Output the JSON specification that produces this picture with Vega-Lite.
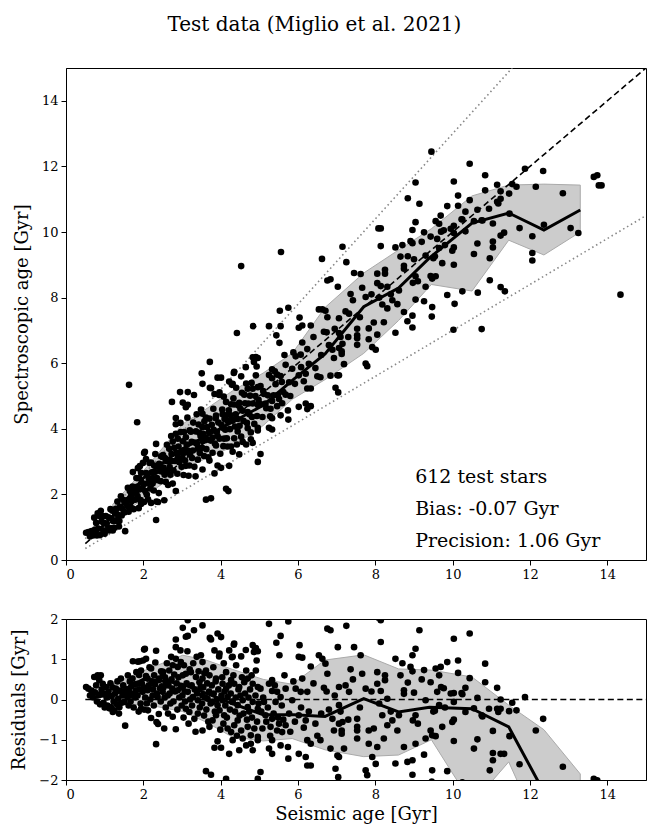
{
"$schema":"https://vega.github.io/schema/vega-lite/v6.json",
"background":"white",
"padding":{"left":10,"top":14,"right":1,"bottom":5},
"title":{"text":"Test data (Miglio et al. 2021)","font":"DejaVu Serif","fontSize":20,"fontWeight":"normal","color":"black","anchor":"middle","offset":33,"dx":-14},
"config":{"font":"DejaVu Serif","view":{"stroke":"black","strokeWidth":1},
"axis":{"domainColor":"black","tickColor":"black","labelColor":"black","titleColor":"black","labelFont":"DejaVu Serif","titleFont":"DejaVu Serif","labelFontSize":13,"titleFontSize":18,"titleFontWeight":"normal","grid":false,"tickSize":5,"labelPadding":3}},
"datasets":{
"stars":[
{"s":0.52,"a":0.83,"r":0.31},{"s":0.58,"a":0.85,"r":0.27},{"s":0.62,"a":0.72,"r":0.10},{"s":0.66,"a":0.88,"r":0.22},{"s":0.70,"a":0.75,"r":0.05},{"s":0.73,"a":1.29,"r":0.56},{"s":0.75,"a":0.93,"r":0.18},{"s":0.78,"a":1.13,"r":0.35},{"s":0.80,"a":0.75,"r":-0.05},{"s":0.82,"a":1.42,"r":0.60},{"s":0.84,"a":0.96,"r":0.12},{"s":0.86,"a":1.34,"r":0.48},{"s":0.88,"a":0.76,"r":-0.12},{"s":0.90,"a":1.50,"r":0.60},{"s":0.92,"a":1.17,"r":0.25},{"s":0.95,"a":1.34,"r":0.39},{"s":0.97,"a":0.89,"r":-0.08},{"s":0.98,"a":1.13,"r":0.15},{"s":1.00,"a":0.80,"r":-0.20},{"s":1.03,"a":1.34,"r":0.31},
{"s":1.05,"a":1.10,"r":0.05},{"s":1.07,"a":0.92,"r":-0.15},{"s":1.10,"a":1.30,"r":0.20},{"s":1.12,"a":0.90,"r":-0.22},{"s":1.15,"a":1.55,"r":0.40},{"s":1.16,"a":0.97,"r":-0.19},{"s":1.18,"a":1.26,"r":0.08},{"s":1.20,"a":1.50,"r":0.30},{"s":1.21,"a":0.90,"r":-0.31},{"s":1.23,"a":1.18,"r":-0.05},{"s":1.25,"a":0.98,"r":-0.27},{"s":1.27,"a":1.42,"r":0.15},{"s":1.29,"a":1.56,"r":0.27},{"s":1.31,"a":1.19,"r":-0.12},{"s":1.33,"a":1.78,"r":0.45},{"s":1.35,"a":1.37,"r":0.02},{"s":1.37,"a":1.02,"r":-0.35},{"s":1.38,"a":1.19,"r":-0.19},{"s":1.40,"a":1.62,"r":0.22},{"s":1.42,"a":1.94,"r":0.52},{"s":1.44,"a":1.36,"r":-0.08},{"s":1.46,"a":1.56,"r":0.10},{"s":1.48,"a":1.83,"r":0.35},{"s":1.51,"a":1.45,"r":-0.06},{"s":1.53,"a":0.88,"r":-0.65},{"s":1.55,"a":1.73,"r":0.18},
{"s":1.57,"a":1.82,"r":0.25},{"s":1.59,"a":1.65,"r":0.06},{"s":1.60,"a":2.20,"r":0.60},{"s":1.62,"a":1.47,"r":-0.15},{"s":1.63,"a":5.34,"r":3.71},{"s":1.63,"a":1.83,"r":0.20},{"s":1.65,"a":2.10,"r":0.45},{"s":1.67,"a":1.62,"r":-0.05},{"s":1.69,"a":2.01,"r":0.32},{"s":1.70,"a":1.80,"r":0.10},{"s":1.72,"a":2.24,"r":0.52},{"s":1.72,"a":1.86,"r":0.14},{"s":1.73,"a":2.68,"r":0.95},{"s":1.75,"a":1.55,"r":-0.20},{"s":1.77,"a":2.15,"r":0.38},{"s":1.79,"a":1.84,"r":0.05},{"s":1.81,"a":2.04,"r":0.23},{"s":1.82,"a":2.50,"r":0.68},{"s":1.84,"a":4.20,"r":2.36},{"s":1.85,"a":2.24,"r":0.39},{"s":1.85,"a":1.95,"r":0.10},{"s":1.86,"a":2.80,"r":0.94},{"s":1.88,"a":1.58,"r":-0.30},{"s":1.89,"a":2.50,"r":0.61},{"s":1.90,"a":2.15,"r":0.25},{"s":1.91,"a":2.86,"r":0.95},{"s":1.93,"a":1.83,"r":-0.10},{"s":1.94,"a":2.66,"r":0.72},{"s":1.94,"a":1.71,"r":-0.23},{"s":1.96,"a":2.36,"r":0.40},{"s":1.98,"a":2.17,"r":0.19},{"s":1.99,"a":2.96,"r":0.97},
{"s":2.01,"a":2.31,"r":0.30},{"s":2.02,"a":3.26,"r":1.24},{"s":2.02,"a":1.77,"r":-0.25},{"s":2.04,"a":3.30,"r":1.26},{"s":2.05,"a":2.10,"r":0.05},{"s":2.07,"a":2.65,"r":0.58},{"s":2.07,"a":3.08,"r":1.01},{"s":2.09,"a":1.99,"r":-0.10},{"s":2.11,"a":2.63,"r":0.52},{"s":2.11,"a":2.34,"r":0.23},{"s":2.12,"a":1.85,"r":-0.27},{"s":2.14,"a":2.49,"r":0.35},{"s":2.16,"a":2.96,"r":0.80},{"s":2.18,"a":2.18,"r":0.00},{"s":2.20,"a":2.97,"r":0.77},{"s":2.20,"a":1.74,"r":-0.46},{"s":2.22,"a":2.67,"r":0.45},{"s":2.24,"a":2.34,"r":0.10},{"s":2.25,"a":2.50,"r":0.25},{"s":2.27,"a":2.12,"r":-0.15},{"s":2.28,"a":2.88,"r":0.60},{"s":2.30,"a":2.68,"r":0.38},{"s":2.31,"a":3.23,"r":0.92},{"s":2.33,"a":3.54,"r":1.21},{"s":2.33,"a":1.22,"r":-1.11},{"s":2.34,"a":1.78,"r":-0.56},{"s":2.35,"a":2.50,"r":0.15},{"s":2.37,"a":2.43,"r":0.06},{"s":2.38,"a":1.77,"r":-0.61},{"s":2.39,"a":2.87,"r":0.48},{"s":2.40,"a":2.04,"r":-0.36},{"s":2.41,"a":2.93,"r":0.52},{"s":2.43,"a":2.71,"r":0.28},{"s":2.45,"a":2.40,"r":-0.05},{"s":2.46,"a":3.16,"r":0.70},{"s":2.48,"a":2.81,"r":0.33},{"s":2.50,"a":2.69,"r":0.19},{"s":2.50,"a":3.14,"r":0.64},
{"s":2.51,"a":3.20,"r":0.69},{"s":2.52,"a":2.82,"r":0.30},{"s":2.54,"a":1.82,"r":-0.72},{"s":2.55,"a":2.60,"r":0.05},{"s":2.56,"a":3.11,"r":0.55},{"s":2.58,"a":2.38,"r":-0.20},{"s":2.59,"a":3.02,"r":0.43},{"s":2.60,"a":3.06,"r":0.46},{"s":2.61,"a":3.51,"r":0.90},{"s":2.63,"a":2.73,"r":0.10},{"s":2.64,"a":2.29,"r":-0.35},{"s":2.65,"a":3.00,"r":0.35},{"s":2.67,"a":3.39,"r":0.72},{"s":2.68,"a":2.83,"r":0.15},{"s":2.70,"a":2.60,"r":-0.10},{"s":2.72,"a":3.78,"r":1.06},{"s":2.73,"a":3.23,"r":0.50},{"s":2.74,"a":4.82,"r":2.08},{"s":2.75,"a":3.02,"r":0.27},{"s":2.76,"a":3.61,"r":0.85},{"s":2.76,"a":2.33,"r":-0.43},{"s":2.78,"a":2.73,"r":-0.05},{"s":2.80,"a":3.42,"r":0.62},{"s":2.82,"a":3.02,"r":0.20},{"s":2.84,"a":4.33,"r":1.49},{"s":2.84,"a":4.14,"r":1.30},{"s":2.84,"a":3.85,"r":1.01},{"s":2.84,"a":2.10,"r":-0.74},{"s":2.86,"a":3.26,"r":0.40},{"s":2.88,"a":2.63,"r":-0.25},{"s":2.89,"a":3.70,"r":0.81},{"s":2.89,"a":3.12,"r":0.23},{"s":2.91,"a":3.46,"r":0.55},{"s":2.93,"a":2.98,"r":0.05},{"s":2.95,"a":5.12,"r":2.17},{"s":2.96,"a":4.18,"r":1.22},{"s":2.97,"a":3.90,"r":0.93},{"s":2.98,"a":3.28,"r":0.30},{"s":2.99,"a":2.84,"r":-0.15},
{"s":3.01,"a":3.11,"r":0.10},{"s":3.02,"a":4.80,"r":1.78},{"s":3.02,"a":3.62,"r":0.60},{"s":3.02,"a":3.33,"r":0.31},{"s":3.04,"a":2.59,"r":-0.45},{"s":3.05,"a":3.90,"r":0.85},{"s":3.07,"a":3.27,"r":0.20},{"s":3.08,"a":3.03,"r":-0.05},{"s":3.10,"a":4.66,"r":1.56},{"s":3.10,"a":3.74,"r":0.64},{"s":3.10,"a":2.87,"r":-0.23},{"s":3.12,"a":3.52,"r":0.40},{"s":3.14,"a":4.34,"r":1.20},{"s":3.15,"a":5.12,"r":1.97},{"s":3.15,"a":4.73,"r":1.58},{"s":3.15,"a":3.34,"r":0.19},{"s":3.17,"a":2.57,"r":-0.60},{"s":3.19,"a":2.88,"r":-0.31},{"s":3.20,"a":3.95,"r":0.75},{"s":3.21,"a":3.21,"r":0.00},{"s":3.23,"a":3.91,"r":0.68},{"s":3.25,"a":3.60,"r":0.35},{"s":3.26,"a":3.11,"r":-0.15},{"s":3.28,"a":3.34,"r":0.06},{"s":3.29,"a":4.19,"r":0.90},{"s":3.31,"a":5.03,"r":1.72},{"s":3.32,"a":2.84,"r":-0.48},{"s":3.33,"a":3.58,"r":0.25},{"s":3.35,"a":2.55,"r":-0.80},{"s":3.36,"a":3.92,"r":0.56},{"s":3.38,"a":4.44,"r":1.06},{"s":3.39,"a":3.54,"r":0.15},{"s":3.41,"a":3.39,"r":-0.02},{"s":3.41,"a":3.06,"r":-0.35},{"s":3.43,"a":4.13,"r":0.70},{"s":3.45,"a":3.88,"r":0.43},{"s":3.46,"a":3.26,"r":-0.20},{"s":3.48,"a":3.78,"r":0.30},{"s":3.49,"a":4.59,"r":1.10},
{"s":3.51,"a":5.69,"r":2.18},{"s":3.52,"a":3.42,"r":-0.10},{"s":3.53,"a":5.37,"r":1.84},{"s":3.53,"a":4.46,"r":0.93},{"s":3.53,"a":4.05,"r":0.52},{"s":3.53,"a":3.63,"r":0.10},{"s":3.53,"a":2.76,"r":-0.77},{"s":3.55,"a":3.85,"r":0.30},{"s":3.57,"a":3.17,"r":-0.40},{"s":3.58,"a":4.23,"r":0.65},{"s":3.60,"a":3.65,"r":0.05},{"s":3.62,"a":4.34,"r":0.72},{"s":3.62,"a":1.84,"r":-1.78},{"s":3.63,"a":3.38,"r":-0.25},{"s":3.65,"a":4.05,"r":0.40},{"s":3.66,"a":3.68,"r":0.02},{"s":3.68,"a":3.13,"r":-0.55},{"s":3.70,"a":3.90,"r":0.20},{"s":3.71,"a":4.31,"r":0.60},{"s":3.71,"a":3.03,"r":-0.68},{"s":3.72,"a":5.25,"r":1.53},{"s":3.72,"a":6.04,"r":2.32},{"s":3.74,"a":3.64,"r":-0.10},{"s":3.75,"a":5.24,"r":1.49},{"s":3.75,"a":1.88,"r":-1.87},{"s":3.77,"a":4.12,"r":0.35},{"s":3.79,"a":3.73,"r":-0.06},{"s":3.79,"a":3.27,"r":-0.52},{"s":3.81,"a":4.61,"r":0.80},{"s":3.82,"a":3.97,"r":0.15},{"s":3.84,"a":5.06,"r":1.22},{"s":3.84,"a":2.64,"r":-1.20},{"s":3.85,"a":3.55,"r":-0.30},{"s":3.87,"a":4.32,"r":0.45},{"s":3.88,"a":4.40,"r":0.52},{"s":3.88,"a":3.49,"r":-0.39},{"s":3.90,"a":3.90,"r":0.00},{"s":3.92,"a":5.56,"r":1.64},{"s":3.92,"a":3.78,"r":-0.14},{"s":3.92,"a":2.88,"r":-1.04},{"s":3.94,"a":4.19,"r":0.25},{"s":3.96,"a":5.03,"r":1.07},{"s":3.97,"a":5.11,"r":1.14},{"s":3.97,"a":3.70,"r":-0.27},{"s":3.99,"a":3.24,"r":-0.75},
{"s":4.01,"a":5.56,"r":1.55},{"s":4.01,"a":2.81,"r":-1.20},{"s":4.02,"a":4.12,"r":0.10},{"s":4.04,"a":4.59,"r":0.55},{"s":4.05,"a":4.44,"r":0.39},{"s":4.05,"a":4.03,"r":-0.02},{"s":4.07,"a":3.47,"r":-0.60},{"s":4.08,"a":4.98,"r":0.90},{"s":4.09,"a":3.70,"r":-0.39},{"s":4.10,"a":4.30,"r":0.20},{"s":4.12,"a":3.97,"r":-0.15},{"s":4.14,"a":4.82,"r":0.68},{"s":4.14,"a":4.41,"r":0.27},{"s":4.14,"a":2.17,"r":-1.97},{"s":4.16,"a":3.71,"r":-0.45},{"s":4.18,"a":4.24,"r":0.06},{"s":4.18,"a":3.46,"r":-0.72},{"s":4.20,"a":2.10,"r":-2.10},{"s":4.21,"a":4.56,"r":0.35},{"s":4.22,"a":5.44,"r":1.22},{"s":4.22,"a":2.87,"r":-1.35},{"s":4.24,"a":3.99,"r":-0.25},{"s":4.26,"a":4.41,"r":0.15},{"s":4.27,"a":4.75,"r":0.48},{"s":4.27,"a":3.46,"r":-0.81},{"s":4.29,"a":5.34,"r":1.05},{"s":4.30,"a":4.25,"r":-0.05},{"s":4.31,"a":5.37,"r":1.06},{"s":4.31,"a":4.25,"r":-0.06},{"s":4.31,"a":3.30,"r":-1.01},{"s":4.33,"a":4.93,"r":0.60},{"s":4.34,"a":5.70,"r":1.36},{"s":4.35,"a":5.74,"r":1.39},{"s":4.35,"a":4.74,"r":0.39},{"s":4.35,"a":3.71,"r":-0.64},{"s":4.37,"a":4.07,"r":-0.30},{"s":4.39,"a":4.44,"r":0.05},{"s":4.40,"a":5.25,"r":0.85},{"s":4.42,"a":6.92,"r":2.50},{"s":4.42,"a":3.52,"r":-0.90},{"s":4.44,"a":4.30,"r":-0.14},{"s":4.44,"a":3.92,"r":-0.52},{"s":4.46,"a":4.71,"r":0.25},{"s":4.48,"a":4.79,"r":0.31},{"s":4.48,"a":3.22,"r":-1.26},{"s":4.49,"a":4.09,"r":-0.40},
{"s":4.51,"a":4.61,"r":0.10},{"s":4.53,"a":5.60,"r":1.07},{"s":4.53,"a":8.96,"r":4.43},{"s":4.53,"a":3.76,"r":-0.77},{"s":4.55,"a":5.10,"r":0.55},{"s":4.57,"a":4.55,"r":-0.02},{"s":4.57,"a":3.60,"r":-0.97},{"s":4.59,"a":4.24,"r":-0.35},{"s":4.61,"a":5.04,"r":0.43},{"s":4.63,"a":4.78,"r":0.15},{"s":4.65,"a":5.88,"r":1.23},{"s":4.66,"a":5.38,"r":0.72},{"s":4.66,"a":3.52,"r":-1.14},{"s":4.68,"a":4.18,"r":-0.50},{"s":4.70,"a":5.22,"r":0.52},{"s":4.70,"a":4.51,"r":-0.19},{"s":4.70,"a":4.02,"r":-0.68},{"s":4.72,"a":4.77,"r":0.05},{"s":4.74,"a":4.44,"r":-0.30},{"s":4.76,"a":5.01,"r":0.25},{"s":4.78,"a":3.89,"r":-0.89},{"s":4.78,"a":3.68,"r":-1.10},{"s":4.80,"a":5.40,"r":0.60},{"s":4.81,"a":4.36,"r":-0.45},{"s":4.83,"a":6.18,"r":1.35},{"s":4.83,"a":5.22,"r":0.39},{"s":4.83,"a":4.77,"r":-0.06},{"s":4.83,"a":3.57,"r":-1.26},{"s":4.84,"a":7.13,"r":2.29},{"s":4.86,"a":6.04,"r":1.18},{"s":4.87,"a":4.15,"r":-0.72},{"s":4.89,"a":6.16,"r":1.27},{"s":4.90,"a":5.00,"r":0.10},{"s":4.91,"a":6.19,"r":1.28},{"s":4.91,"a":5.63,"r":0.72},{"s":4.93,"a":5.90,"r":0.97},{"s":4.94,"a":4.39,"r":-0.55},{"s":4.96,"a":5.27,"r":0.31},{"s":4.96,"a":4.73,"r":-0.23},{"s":4.96,"a":4.03,"r":-0.93},{"s":4.96,"a":3.95,"r":-1.01},{"s":4.96,"a":2.99,"r":-1.97},{"s":4.96,"a":6.16,"r":1.20},{"s":4.98,"a":4.88,"r":-0.10},
{"s":5.25,"a":7.13,"r":1.88},{"s":5.75,"a":7.69,"r":1.94},{"s":5.55,"a":7.13,"r":1.58},{"s":5.44,"a":6.85,"r":1.41},{"s":5.52,"a":6.62,"r":1.10},{"s":6.04,"a":7.39,"r":1.35},{"s":6.02,"a":7.08,"r":1.06},{"s":6.11,"a":7.15,"r":1.04},{"s":6.33,"a":7.15,"r":0.82},{"s":5.03,"a":5.30,"r":0.27},{"s":5.33,"a":5.81,"r":0.48},{"s":5.25,"a":5.64,"r":0.39},{"s":5.46,"a":5.65,"r":0.19},{"s":5.42,"a":5.36,"r":-0.06},{"s":5.55,"a":5.61,"r":0.06},{"s":5.33,"a":5.54,"r":0.21},{"s":5.68,"a":5.95,"r":0.27},{"s":5.94,"a":6.21,"r":0.27},{"s":6.07,"a":6.26,"r":0.19},{"s":6.24,"a":6.43,"r":0.19},{"s":5.85,"a":5.83,"r":-0.02},{"s":6.11,"a":6.63,"r":0.52},{"s":5.12,"a":5.06,"r":-0.06},{"s":5.16,"a":4.77,"r":-0.39},{"s":5.33,"a":4.85,"r":-0.48},{"s":5.51,"a":4.91,"r":-0.60},{"s":5.68,"a":5.04,"r":-0.64},{"s":5.77,"a":5.42,"r":-0.35},{"s":6.02,"a":5.63,"r":-0.39},{"s":6.20,"a":5.68,"r":-0.52},{"s":5.08,"a":4.36,"r":-0.72},{"s":5.29,"a":4.61,"r":-0.68},{"s":5.46,"a":4.69,"r":-0.77},{"s":5.59,"a":4.78,"r":-0.81},{"s":5.33,"a":4.32,"r":-1.01},{"s":5.25,"a":4.03,"r":-1.22},{"s":5.33,"a":3.98,"r":-1.35},{"s":5.55,"a":4.41,"r":-1.14},{"s":5.74,"a":4.56,"r":-1.18},{"s":5.75,"a":4.28,"r":-1.47},{"s":6.02,"a":4.67,"r":-1.35},{"s":6.24,"a":5.23,"r":-1.01},{"s":6.33,"a":5.23,"r":-1.10},{"s":6.20,"a":4.77,"r":-1.43},{"s":6.24,"a":4.60,"r":-1.64},{"s":6.33,"a":4.69,"r":-1.64},{"s":5.03,"a":3.23,"r":-1.80},
{"s":6.76,"a":8.52,"r":1.76},{"s":6.84,"a":8.56,"r":1.72},{"s":7.25,"a":9.08,"r":1.83},{"s":7.03,"a":8.33,"r":1.30},{"s":7.45,"a":8.75,"r":1.30},{"s":6.71,"a":7.60,"r":0.89},{"s":6.54,"a":7.64,"r":1.10},{"s":6.63,"a":7.64,"r":1.01},{"s":6.76,"a":7.40,"r":0.64},{"s":6.67,"a":6.96,"r":0.29},{"s":6.74,"a":6.94,"r":0.20},{"s":7.06,"a":7.37,"r":0.31},{"s":7.23,"a":7.58,"r":0.35},{"s":7.32,"a":7.51,"r":0.19},{"s":7.36,"a":8.11,"r":0.75},{"s":7.66,"a":8.30,"r":0.64},{"s":7.75,"a":8.02,"r":0.27},{"s":7.62,"a":8.72,"r":1.10},{"s":8.14,"a":9.57,"r":1.43},{"s":8.14,"a":10.11,"r":1.97},{"s":8.52,"a":9.53,"r":1.01},{"s":9.04,"a":10.30,"r":1.26},{"s":9.14,"a":10.86,"r":1.72},{"s":8.96,"a":10.06,"r":1.10},{"s":8.91,"a":9.72,"r":0.81},{"s":8.96,"a":9.66,"r":0.70},{"s":9.26,"a":9.99,"r":0.73},{"s":9.56,"a":10.33,"r":0.77},{"s":9.69,"a":10.50,"r":0.81},{"s":9.86,"a":10.79,"r":0.93},{"s":8.05,"a":8.73,"r":0.68},{"s":8.25,"a":8.85,"r":0.60},{"s":8.25,"a":8.73,"r":0.48},{"s":8.05,"a":8.44,"r":0.39},{"s":8.14,"a":8.35,"r":0.21},{"s":8.65,"a":9.25,"r":0.60},{"s":8.84,"a":9.26,"r":0.42},{"s":8.74,"a":8.97,"r":0.23},{"s":8.74,"a":8.88,"r":0.14},{"s":9.00,"a":9.17,"r":0.17},{"s":9.43,"a":9.86,"r":0.43},{"s":9.70,"a":10.01,"r":0.31},{"s":9.60,"a":9.79,"r":0.19},{"s":9.95,"a":10.10,"r":0.15},{"s":9.30,"a":9.28,"r":-0.02},{"s":8.31,"a":8.33,"r":0.02},{"s":7.06,"a":6.92,"r":-0.14},{"s":6.89,"a":6.41,"r":-0.48},{"s":7.06,"a":6.46,"r":-0.60},{"s":7.15,"a":6.59,"r":-0.56},{"s":6.93,"a":6.16,"r":-0.77},{"s":7.13,"a":6.36,"r":-0.77},{"s":7.13,"a":6.28,"r":-0.85},{"s":7.53,"a":7.05,"r":-0.48},{"s":7.53,"a":6.85,"r":-0.68},{"s":7.53,"a":6.76,"r":-0.77},{"s":7.83,"a":7.06,"r":-0.77},{"s":7.96,"a":7.24,"r":-0.72},{"s":8.18,"a":7.79,"r":-0.39},{"s":8.44,"a":7.92,"r":-0.52},{"s":8.31,"a":7.67,"r":-0.64},{"s":8.22,"a":7.25,"r":-0.97},{"s":8.57,"a":7.80,"r":-0.77},{"s":8.61,"a":8.22,"r":-0.39},{"s":8.97,"a":8.45,"r":-0.52},{"s":9.04,"a":8.65,"r":-0.39},{"s":9.30,"a":8.33,"r":-0.97},{"s":9.43,"a":8.66,"r":-0.77},{"s":9.47,"a":8.58,"r":-0.89},{"s":9.73,"a":9.05,"r":-0.68},{"s":9.99,"a":9.43,"r":-0.56},{"s":6.58,"a":5.57,"r":-1.01},{"s":6.84,"a":5.62,"r":-1.22},{"s":7.02,"a":5.63,"r":-1.39},{"s":7.06,"a":5.63,"r":-1.43},{"s":7.19,"a":5.97,"r":-1.22},{"s":7.53,"a":6.56,"r":-0.97},{"s":7.83,"a":6.73,"r":-1.10},{"s":8.05,"a":6.87,"r":-1.18},{"s":7.92,"a":6.49,"r":-1.43},{"s":8.01,"a":6.41,"r":-1.60},{"s":7.75,"a":5.99,"r":-1.76},{"s":7.79,"a":5.91,"r":-1.88},{"s":7.04,"a":5.11,"r":-1.93},{"s":6.97,"a":5.25,"r":-1.72},{"s":8.52,"a":6.93,"r":-1.59},{"s":8.83,"a":7.28,"r":-1.55},{"s":8.96,"a":7.45,"r":-1.51},{"s":8.74,"a":7.56,"r":-1.18},{"s":9.04,"a":7.94,"r":-1.10},{"s":9.26,"a":7.89,"r":-1.37},{"s":8.96,"a":7.09,"r":-1.87},{"s":9.47,"a":7.71,"r":-1.76},{"s":9.86,"a":8.08,"r":-1.78},
{"s":5.05,"a":4.75,"r":-0.30},{"s":5.10,"a":5.15,"r":0.05},{"s":5.18,"a":4.63,"r":-0.55},{"s":5.22,"a":5.02,"r":-0.20},{"s":5.28,"a":4.38,"r":-0.90},{"s":5.37,"a":5.02,"r":-0.35},{"s":5.40,"a":5.75,"r":0.35},{"s":5.48,"a":5.03,"r":-0.45},{"s":5.58,"a":5.43,"r":-0.15},{"s":5.62,"a":5.12,"r":-0.50},{"s":5.65,"a":6.25,"r":0.60},{"s":5.80,"a":5.00,"r":-0.80},{"s":5.88,"a":6.33,"r":0.45},{"s":5.92,"a":5.37,"r":-0.55},{"s":6.08,"a":5.88,"r":-0.20},{"s":6.15,"a":5.45,"r":-0.70},{"s":6.28,"a":5.98,"r":-0.30},{"s":6.40,"a":6.80,"r":0.40},{"s":6.45,"a":5.85,"r":-0.60},{"s":6.50,"a":5.60,"r":-0.90},{"s":6.60,"a":6.25,"r":-0.35},{"s":6.80,"a":6.55,"r":-0.25},{"s":6.95,"a":7.05,"r":0.10},{"s":7.10,"a":6.80,"r":-0.30},{"s":7.30,"a":6.80,"r":-0.50},{"s":7.42,"a":7.92,"r":0.50},{"s":7.60,"a":7.40,"r":-0.20},{"s":7.90,"a":8.10,"r":0.20},{"s":8.10,"a":8.00,"r":-0.10},{"s":8.40,"a":8.10,"r":-0.30},{"s":8.70,"a":9.60,"r":0.90},{"s":9.10,"a":8.50,"r":-0.60},{"s":9.20,"a":9.70,"r":0.50},{"s":9.50,"a":9.20,"r":-0.30},{"s":9.65,"a":10.25,"r":0.60},{"s":9.80,"a":9.60,"r":-0.20},
{"s":5.56,"a":9.39,"r":3.83},{"s":5.53,"a":7.60,"r":2.07},{"s":6.62,"a":9.18,"r":2.56},{"s":7.15,"a":9.55,"r":2.40},{"s":8.08,"a":10.11,"r":2.03},{"s":8.84,"a":11.03,"r":2.19},{"s":9.04,"a":11.51,"r":2.47},{"s":9.45,"a":12.45,"r":3.00},{"s":9.46,"a":7.42,"r":-2.04},
{"s":10.03,"a":11.54,"r":1.51},{"s":10.44,"a":12.08,"r":1.64},{"s":10.14,"a":11.11,"r":0.97},{"s":10.14,"a":10.80,"r":0.66},{"s":10.84,"a":11.73,"r":0.89},{"s":10.84,"a":11.27,"r":0.43},{"s":11.15,"a":11.44,"r":0.29},{"s":10.44,"a":10.97,"r":0.53},{"s":10.33,"a":10.62,"r":0.29},{"s":10.23,"a":10.39,"r":0.16},{"s":10.03,"a":10.19,"r":0.16},{"s":10.64,"a":10.68,"r":0.04},{"s":11.24,"a":11.24,"r":0.00},{"s":11.54,"a":11.46,"r":-0.08},{"s":11.87,"a":11.93,"r":0.06},{"s":10.03,"a":9.97,"r":-0.06},{"s":10.33,"a":10.02,"r":-0.31},{"s":10.75,"a":10.36,"r":-0.39},{"s":10.94,"a":10.71,"r":-0.23},{"s":11.15,"a":10.92,"r":-0.23},{"s":11.24,"a":11.01,"r":-0.23},{"s":11.18,"a":10.87,"r":-0.31},{"s":11.46,"a":11.17,"r":-0.29},{"s":11.65,"a":11.38,"r":-0.27},{"s":10.03,"a":9.53,"r":-0.50},{"s":11.04,"a":10.26,"r":-0.78},{"s":10.64,"a":9.65,"r":-0.99},{"s":10.03,"a":9.00,"r":-1.03},{"s":10.55,"a":9.33,"r":-1.22},{"s":11.04,"a":9.71,"r":-1.33},{"s":11.04,"a":9.53,"r":-1.51},{"s":11.24,"a":9.89,"r":-1.35},{"s":11.33,"a":9.98,"r":-1.35},{"s":11.47,"a":10.56,"r":-0.91},{"s":11.73,"a":10.12,"r":-1.61},{"s":10.96,"a":9.20,"r":-1.76},{"s":12.15,"a":11.38,"r":-0.77},{"s":12.34,"a":11.86,"r":-0.48},{"s":12.85,"a":11.18,"r":-1.67},{"s":13.65,"a":11.68,"r":-1.97},{"s":13.74,"a":11.73,"r":-2.01},
{"s":12.06,"a":9.87,"r":-2.19},{"s":12.06,"a":9.36,"r":-2.70},{"s":12.06,"a":9.13,"r":-2.93},{"s":12.36,"a":10.22,"r":-2.14},{"s":13.05,"a":10.12,"r":-2.93},{"s":13.25,"a":9.97,"r":-3.28},{"s":14.34,"a":8.09,"r":-6.25},{"s":10.96,"a":8.53,"r":-2.43},{"s":11.24,"a":8.32,"r":-2.92},{"s":11.35,"a":8.19,"r":-3.16},{"s":10.25,"a":8.19,"r":-2.06},{"s":10.05,"a":7.81,"r":-2.24},{"s":10.65,"a":8.15,"r":-2.50},{"s":10.75,"a":7.04,"r":-3.71},{"s":10.02,"a":7.02,"r":-3.00},{"s":13.78,"a":11.42,"r":-2.36},{"s":13.85,"a":11.42,"r":-2.43},
{"s":10.55,"a":10.33,"r":-0.22},{"s":10.77,"a":10.35,"r":-0.42},{"s":9.77,"a":10.05,"r":0.28},{"s":10.25,"a":10.38,"r":0.13},{"s":9.54,"a":9.26,"r":-0.28},{"s":9.56,"a":8.65,"r":-0.91},{"s":9.65,"a":9.51,"r":-0.14}
],
"band":[
{"s":1.21,"lo":1.1,"hi":1.7,"rlo":-0.11,"rhi":0.38},{"s":2.1,"lo":2.0,"hi":2.85,"rlo":-0.13,"rhi":0.75},{"s":3.02,"lo":2.75,"hi":4.15,"rlo":-0.3,"rhi":1.1},{"s":3.62,"lo":3.1,"hi":4.6,"rlo":-0.56,"rhi":0.98},{"s":4.3,"lo":3.45,"hi":5.15,"rlo":-0.93,"rhi":0.75},{"s":5.1,"lo":4.1,"hi":5.7,"rlo":-1.03,"rhi":0.5},{"s":5.85,"lo":4.9,"hi":6.3,"rlo":-0.97,"rhi":0.38},{"s":6.7,"lo":5.5,"hi":7.7,"rlo":-1.25,"rhi":0.98},{"s":7.7,"lo":6.3,"hi":8.75,"rlo":-1.42,"rhi":1.11},{"s":8.6,"lo":7.3,"hi":9.45,"rlo":-1.38,"rhi":0.76},{"s":9.45,"lo":8.4,"hi":10.1,"rlo":-1.0,"rhi":0.73},{"s":10.5,"lo":8.2,"hi":11.1,"rlo":-2.6,"rhi":0.56},{"s":11.45,"lo":9.75,"hi":11.43,"rlo":-1.55,"rhi":-0.14},{"s":12.36,"lo":9.3,"hi":11.46,"rlo":-3.5,"rhi":-0.75},{"s":13.3,"lo":10.0,"hi":11.43,"rlo":-3.0,"rhi":-1.85}
],
"med":[
{"s":0.75,"a":0.8,"r":0.05},{"s":1.3,"a":1.45,"r":0.15},{"s":2.0,"a":2.5,"r":0.5},{"s":2.6,"a":3.05,"r":0.45},{"s":3.0,"a":3.38,"r":0.38},{"s":3.5,"a":3.7,"r":0.2},{"s":4.3,"a":4.2,"r":-0.1},{"s":5.1,"a":4.72,"r":-0.38},{"s":5.9,"a":5.52,"r":-0.38},{"s":6.7,"a":6.28,"r":-0.42},{"s":7.7,"a":7.72,"r":0.02},{"s":8.6,"a":8.29,"r":-0.31},{"s":9.4,"a":9.21,"r":-0.19},{"s":10.5,"a":10.27,"r":-0.23},{"s":11.45,"a":10.58,"r":-0.68},{"s":12.36,"a":10.06,"r":-2.3},{"s":13.3,"a":10.67,"r":-2.65}
],
"refl":[
{"g":"one","x":0.5,"y":0.5},{"g":"one","x":15,"y":15},
{"g":"up","x":0.5,"y":0.65},{"g":"up","x":11.54,"y":15},
{"g":"lo","x":0.5,"y":0.35},{"g":"lo","x":15,"y":10.5}
],
"zero":[{"x":0.5,"y":0},{"x":15,"y":0}],
"note":[{"x":9.03,"y":2.53,"t":"612 test stars"},{"x":9.03,"y":1.55,"t":"Bias: -0.07 Gyr"},{"x":9.03,"y":0.58,"t":"Precision: 1.06 Gyr"}]
},
"spacing":30,
"vconcat":[
{"width":580,"height":492,
"layer":[
{"data":{"name":"band"},"mark":{"type":"area","fill":"#cccccc","stroke":"#aaaaaa","strokeWidth":1,"clip":true},
"encoding":{"x":{"field":"s","type":"quantitative","scale":{"domain":[0,15],"nice":false},"axis":{"values":[0,2,4,6,8,10,12,14],"title":null}},
"y":{"field":"lo","type":"quantitative","scale":{"domain":[0,15],"nice":false},"axis":{"values":[0,2,4,6,8,10,12,14],"title":"Spectroscopic age [Gyr]","titlePadding":10}},
"y2":{"field":"hi"}}},
{"data":{"name":"refl"},"transform":[{"filter":"datum.g === 'one'"}],"mark":{"type":"line","color":"black","strokeWidth":1.6,"strokeDash":[6,3.5],"clip":true},
"encoding":{"x":{"field":"x","type":"quantitative"},"y":{"field":"y","type":"quantitative"}}},
{"data":{"name":"refl"},"transform":[{"filter":"datum.g !== 'one'"}],"mark":{"type":"line","color":"#888888","strokeWidth":1.6,"strokeDash":[1.5,3],"clip":true},
"encoding":{"x":{"field":"x","type":"quantitative"},"y":{"field":"y","type":"quantitative"},"detail":{"field":"g"}}},
{"data":{"name":"stars"},"mark":{"type":"circle","color":"black","opacity":1,"size":44,"clip":true},
"encoding":{"x":{"field":"s","type":"quantitative"},"y":{"field":"a","type":"quantitative"}}},
{"data":{"name":"med"},"mark":{"type":"line","color":"black","strokeWidth":3,"clip":true},
"encoding":{"x":{"field":"s","type":"quantitative"},"y":{"field":"a","type":"quantitative"}}},
{"data":{"name":"note"},"mark":{"type":"text","align":"left","baseline":"middle","fontSize":19,"font":"DejaVu Serif","color":"black"},
"encoding":{"x":{"field":"x","type":"quantitative"},"y":{"field":"y","type":"quantitative"},"text":{"field":"t"}}}
]},
{"width":580,"height":161,
"layer":[
{"data":{"name":"band"},"mark":{"type":"area","fill":"#cccccc","stroke":"#aaaaaa","strokeWidth":1,"clip":true},
"encoding":{"x":{"field":"s","type":"quantitative","scale":{"domain":[0,15],"nice":false},"axis":{"values":[0,2,4,6,8,10,12,14],"title":"Seismic age [Gyr]"}},
"y":{"field":"rlo","type":"quantitative","scale":{"domain":[-2,2],"nice":false},"axis":{"values":[-2,-1,0,1,2],"title":"Residuals [Gyr]","titlePadding":10}},
"y2":{"field":"rhi"}}},
{"data":{"name":"zero"},"mark":{"type":"line","color":"black","strokeWidth":1.6,"strokeDash":[6,3.5],"clip":true},
"encoding":{"x":{"field":"x","type":"quantitative"},"y":{"field":"y","type":"quantitative"}}},
{"data":{"name":"stars"},"mark":{"type":"circle","color":"black","opacity":1,"size":44,"clip":true},
"encoding":{"x":{"field":"s","type":"quantitative"},"y":{"field":"r","type":"quantitative"}}},
{"data":{"name":"med"},"mark":{"type":"line","color":"black","strokeWidth":3,"clip":true},
"encoding":{"x":{"field":"s","type":"quantitative"},"y":{"field":"r","type":"quantitative"}}}
]}
]
}
